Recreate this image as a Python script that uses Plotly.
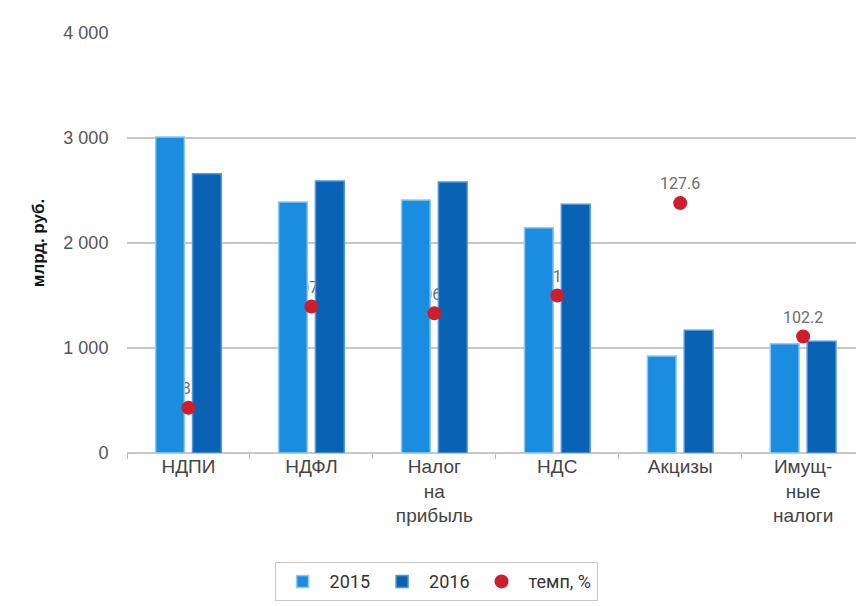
import plotly.graph_objects as go

categories = ["НДПИ", "НДФЛ", "Налог<br>на<br>прибыль", "НДС", "Акцизы", "Имущ-<br>ные<br>налоги"]
values_2015 = [3010, 2390, 2410, 2145, 925, 1040]
values_2016 = [2660, 2590, 2580, 2370, 1170, 1065]
growth_rate = [88.6, 107.9, 106.6, 110.0, 127.6, 102.2]
growth_labels = ["88.6", "107.9", "106.6", "110", "127.6", "102.2"]

narrow = "Roboto, Liberation Sans, sans-serif"
regular = "Liberation Sans, Arial, sans-serif"

fig = go.Figure()

# rate labels sit on the base layer, under the bars
fig.add_trace(go.Scatter(
    x=categories, y=growth_rate, mode="markers+text",
    text=growth_labels, textposition="top center",
    textfont=dict(family=narrow, size=16, color="#6b6b6b"),
    marker=dict(size=14, opacity=0),
    showlegend=False, hoverinfo="skip",
    xaxis="x", yaxis="y",
))

fig.add_trace(go.Bar(
    x=categories, y=values_2015, name="2015",
    marker=dict(color="#1a8de0", line=dict(color="#8fcaf3", width=1.5)),
    xaxis="x", yaxis="y2",
))
fig.add_trace(go.Bar(
    x=categories, y=values_2016, name="2016",
    marker=dict(color="#0a62b5", line=dict(color="#4f97d8", width=1.5)),
    xaxis="x", yaxis="y2",
))

# rate markers drawn above the bars
fig.add_trace(go.Scatter(
    x=categories, y=growth_rate, mode="markers", name="темп, %",
    marker=dict(size=14, color="#cc1e2c"),
    xaxis="x", yaxis="y3",
))

fig.update_layout(
    width=856, height=606,
    paper_bgcolor="white", plot_bgcolor="white",
    margin=dict(l=127, r=0, t=33, b=153),
    separators=", ",
    barmode="group", bargap=0.40, bargroupgap=0.22,
    xaxis=dict(
        range=[-0.5, 5.43], type="category",
        showgrid=False, showline=False, zeroline=False,
        ticks="outside", tickson="boundaries", ticklen=5, tickcolor="#bbbbbb",
        tickfont=dict(family=regular, size=19, color="#444444"),
    ),
    yaxis=dict(range=[80, 160], visible=False, showgrid=False),
    yaxis2=dict(
        range=[0, 4000], overlaying="y", side="left",
        tickvals=[0, 1000, 2000, 3000, 4000],
        tickformat=",d",
        showgrid=True, gridcolor="#c8c8c8", gridwidth=2,
        zeroline=True, zerolinecolor="#c8c8c8", zerolinewidth=2,
        showline=False,
        ticks="outside", ticklen=14, tickcolor="#ffffff",
        tickfont=dict(family=regular, size=18, color="#555555"),
        title=dict(text="<b>млрд. руб.</b>", standoff=14,
                   font=dict(family=regular, size=17, color="#111111")),
    ),
    yaxis3=dict(range=[80, 160], overlaying="y", visible=False, showgrid=False),
    legend=dict(
        orientation="h", x=0.424, xanchor="center", y=-0.26, yanchor="top",
        bordercolor="#c8c8c8", borderwidth=1, bgcolor="white",
        font=dict(family=narrow, size=18, color="#333333"),
        itemwidth=44,
    ),
)

fig.write_html("out.html")
